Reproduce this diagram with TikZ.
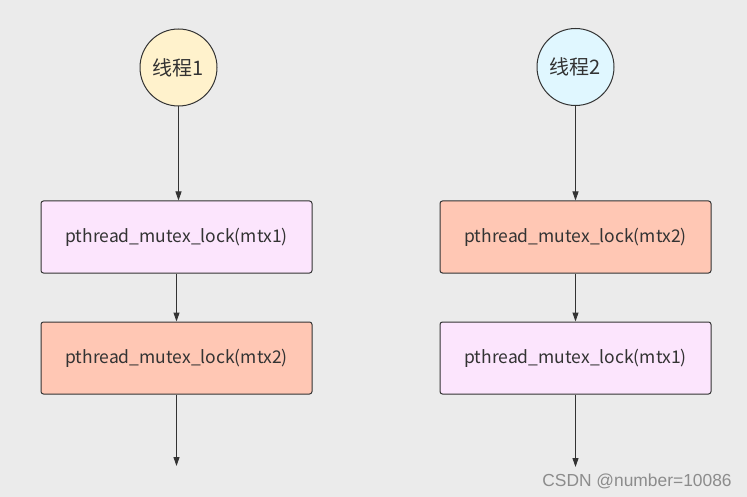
\documentclass[tikz,border=0pt]{standalone}
\usepackage{fontspec}
\setmainfont{Noto Sans CJK SC}
\newfontfamily\markfont{Liberation Sans}
\usetikzlibrary{arrows.meta}
\definecolor{bgray}{HTML}{EBEBEB}
\definecolor{edgegray}{HTML}{333333}
\definecolor{threadone}{HTML}{FFF2CC}
\definecolor{threadtwo}{HTML}{E0F7FF}
\definecolor{lockpink}{HTML}{FCE5FD}
\definecolor{locksalmon}{HTML}{FFC7B4}
\tikzset{
  thread/.style = {circle, draw = edgegray, line width = 1pt, minimum size = 77pt, inner sep = 0pt, font = \fontsize{20}{24}\selectfont, text = black!80},
  lockbox/.style = {rectangle, rounded corners = 2.5pt, draw = edgegray, line width = 1pt, minimum width = 271pt, minimum height = 72pt, font = \fontsize{17.5}{21}\selectfont, text = black!80},
  flow/.style = {-{Triangle[width = 6pt, length = 9pt]}, draw = edgegray, line width = 1pt}
}
\begin{document}
\begin{tikzpicture}[x = 1pt, y = -1pt]
\fill [bgray] (0,0) rectangle (747,497);
\useasboundingbox (0,0) rectangle (747,497);
% thread 1
\node [thread, fill = threadone] (t1) at (178.5,67.5) {线程1};
\node [lockbox, fill = lockpink] (l11) at (176.5,237) {pthread\_mutex\_lock(mtx1)};
\node [lockbox, fill = locksalmon] (l12) at (176.5,358) {pthread\_mutex\_lock(mtx2)};
\coordinate (e1) at (176.5,466);
\draw [flow] (t1) -- (t1 |- l11.north);
\draw [flow] (l11) -- (l12);
\draw [flow] (l12) -- (e1);
% thread 2
\node [thread, fill = threadtwo] (t2) at (575.5,67) {线程2};
\node [lockbox, fill = locksalmon] (l21) at (575.5,237) {pthread\_mutex\_lock(mtx2)};
\node [lockbox, fill = lockpink] (l22) at (575.5,358) {pthread\_mutex\_lock(mtx1)};
\coordinate (e2) at (575.5,467);
\draw [flow] (t2) -- (l21);
\draw [flow] (l21) -- (l22);
\draw [flow] (l22) -- (e2);
% watermark
\node [font = \markfont\fontsize{17.4}{19}\selectfont, text = black!45] (mark) at (637,481) {CSDN @number=10086};
\end{tikzpicture}
\end{document}
